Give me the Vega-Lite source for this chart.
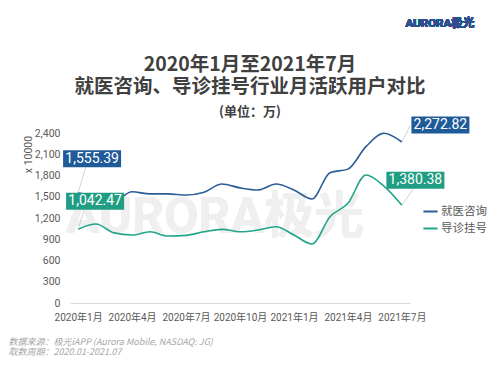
{
  "$schema": "https://vega.github.io/schema/vega-lite/v6.json",
  "width": 340,
  "height": 170,
  "autosize": {"type": "none"},
  "padding": {"left": 70, "top": 133, "right": 90, "bottom": 72},
  "background": "white",
  "title": {
    "text": ["2020年1月至2021年7月", "就医咨询、导诊挂号行业月活跃用户对比"],
    "subtitle": "(单位：万)",
    "anchor": "middle",
    "frame": "group",
    "dx": 10,
    "offset": -102,
    "font": "Noto Sans CJK SC",
    "fontSize": 19.5,
    "fontWeight": "bold",
    "color": "#404040",
    "lineHeight": 22,
    "subtitleFont": "Noto Sans CJK SC",
    "subtitleFontSize": 13,
    "subtitleFontWeight": "bold",
    "subtitleColor": "#404040",
    "subtitlePadding": 8
  },
  "data": {
    "values": [
      {"month": "2020年1月", "series": "就医咨询", "value": 1555.39},
      {"month": "2020年2月", "series": "就医咨询", "value": 1490},
      {"month": "2020年3月", "series": "就医咨询", "value": 1440},
      {"month": "2020年4月", "series": "就医咨询", "value": 1570},
      {"month": "2020年5月", "series": "就医咨询", "value": 1540},
      {"month": "2020年6月", "series": "就医咨询", "value": 1540},
      {"month": "2020年7月", "series": "就医咨询", "value": 1525},
      {"month": "2020年8月", "series": "就医咨询", "value": 1565},
      {"month": "2020年9月", "series": "就医咨询", "value": 1680},
      {"month": "2020年10月", "series": "就医咨询", "value": 1625},
      {"month": "2020年11月", "series": "就医咨询", "value": 1595},
      {"month": "2020年12月", "series": "就医咨询", "value": 1680},
      {"month": "2021年1月", "series": "就医咨询", "value": 1595},
      {"month": "2021年2月", "series": "就医咨询", "value": 1468},
      {"month": "2021年3月", "series": "就医咨询", "value": 1840},
      {"month": "2021年4月", "series": "就医咨询", "value": 1890},
      {"month": "2021年5月", "series": "就医咨询", "value": 2207},
      {"month": "2021年6月", "series": "就医咨询", "value": 2396},
      {"month": "2021年7月", "series": "就医咨询", "value": 2272.82},
      {"month": "2020年1月", "series": "导诊挂号", "value": 1042.47},
      {"month": "2020年2月", "series": "导诊挂号", "value": 1115},
      {"month": "2020年3月", "series": "导诊挂号", "value": 990},
      {"month": "2020年4月", "series": "导诊挂号", "value": 960},
      {"month": "2020年5月", "series": "导诊挂号", "value": 1005},
      {"month": "2020年6月", "series": "导诊挂号", "value": 945},
      {"month": "2020年7月", "series": "导诊挂号", "value": 955},
      {"month": "2020年8月", "series": "导诊挂号", "value": 1005},
      {"month": "2020年9月", "series": "导诊挂号", "value": 1040},
      {"month": "2020年10月", "series": "导诊挂号", "value": 1005},
      {"month": "2020年11月", "series": "导诊挂号", "value": 1030},
      {"month": "2020年12月", "series": "导诊挂号", "value": 1077},
      {"month": "2021年1月", "series": "导诊挂号", "value": 960},
      {"month": "2021年2月", "series": "导诊挂号", "value": 833},
      {"month": "2021年3月", "series": "导诊挂号", "value": 1218},
      {"month": "2021年4月", "series": "导诊挂号", "value": 1407},
      {"month": "2021年5月", "series": "导诊挂号", "value": 1807},
      {"month": "2021年6月", "series": "导诊挂号", "value": 1650},
      {"month": "2021年7月", "series": "导诊挂号", "value": 1380.38}
    ]
  },
  "encoding": {
    "x": {
      "field": "month",
      "type": "ordinal",
      "sort": null,
      "scale": {
        "type": "point",
        "padding": 0.45,
        "domain": ["2020年1月", "2020年2月", "2020年3月", "2020年4月", "2020年5月", "2020年6月", "2020年7月", "2020年8月", "2020年9月", "2020年10月", "2020年11月", "2020年12月", "2021年1月", "2021年2月", "2021年3月", "2021年4月", "2021年5月", "2021年6月", "2021年7月"]
      },
      "axis": {
        "values": ["2020年1月", "2020年4月", "2020年7月", "2020年10月", "2021年1月", "2021年4月", "2021年7月"],
        "labelAngle": 0,
        "labelOverlap": false,
        "labelFontSize": 10,
        "labelPadding": 9,
        "domain": true,
        "domainColor": "#d9d9d9",
        "title": ["数据来源：极光iAPP (Aurora Mobile, NASDAQ: JG)", "取数周期：2020.01-2021.07"],
        "titleX": -62,
        "titleY": 34,
        "titleAnchor": null,
        "titleAlign": "left",
        "titleBaseline": "top",
        "titleFont": "Noto Sans CJK SC",
        "titleFontSize": 9,
        "titleFontStyle": "italic",
        "titleFontWeight": "normal",
        "titleColor": "#a6a6a6",
        "titleLineHeight": 10
      }
    },
    "y": {
      "field": "value",
      "type": "quantitative",
      "scale": {"domain": [0, 2400]},
      "axis": {
        "values": [0, 300, 600, 900, 1200, 1500, 1800, 2100, 2400],
        "format": ",.0f",
        "labelPadding": 10,
        "title": "x 10000",
        "titleX": -42,
        "titleY": 21,
        "titleAngle": -90,
        "titleAlign": "center",
        "titleBaseline": "middle",
        "titleFont": "Roboto",
        "titleFontSize": 10.5,
        "titleFontWeight": "normal",
        "titleColor": "#595959"
      }
    }
  },
  "layer": [
    {
      "mark": {"type": "text", "text": "AURORA极光", "font": "Roboto, Noto Sans CJK SC", "fontSize": 50, "fontWeight": "bold", "color": "#efefef", "align": "center", "baseline": "middle", "xOffset": -7},
      "encoding": {"x": {"datum": "2020年9月"}, "y": {"datum": 1200}}
    },
    {
      "mark": {"type": "text", "text": "AURORA极光", "font": "Roboto, Noto Sans CJK SC", "fontSize": 11.5, "fontWeight": "bold", "color": "#2e4f8f", "align": "center", "baseline": "middle", "xOffset": 38},
      "encoding": {"x": {"datum": "2021年7月"}, "y": {"datum": 3939}}
    },
    {
      "mark": {"type": "line", "interpolate": "monotone", "strokeWidth": 1.6},
      "encoding": {
        "color": {
          "field": "series",
          "type": "nominal",
          "scale": {"domain": ["就医咨询", "导诊挂号"], "range": ["#2b5d96", "#22a58a"]},
          "legend": {
            "orient": "none",
            "legendX": 352,
            "legendY": 70,
            "title": null,
            "symbolType": "stroke",
            "symbolSize": 200,
            "symbolStrokeWidth": 2,
            "labelFont": "Noto Sans CJK SC",
            "labelFontSize": 11.5,
            "labelColor": "#595959",
            "rowPadding": 3,
            "labelOffset": 2
          }
        }
      }
    },
    {
      "transform": [{"filter": "datum.series === '就医咨询' && datum.month === '2020年1月'"}],
      "layer": [
        {"mark": {"type": "rule", "color": "#c8c8c8", "strokeWidth": 0.8, "x2Offset": 8, "y2Offset": -27}, "encoding": {"x2": {"field": "month"}, "y2": {"field": "value"}}},
        {"mark": {"type": "point", "shape": "M-1,-0.293H1V0.293H-1Z", "size": 3364, "filled": true, "opacity": 1, "fill": "#1f5b98", "strokeWidth": 0, "xOffset": 14, "yOffset": -34}},
        {"mark": {"type": "text", "font": "Roboto", "fontSize": 14, "color": "white", "align": "center", "baseline": "middle", "xOffset": 14, "yOffset": -34}, "encoding": {"text": {"field": "value", "type": "quantitative", "format": ",.2f"}}}
      ]
    },
    {
      "transform": [{"filter": "datum.series === '导诊挂号' && datum.month === '2020年1月'"}],
      "layer": [
        {"mark": {"type": "rule", "color": "#c8c8c8", "strokeWidth": 0.8, "x2Offset": 6, "y2Offset": -19}, "encoding": {"x2": {"field": "month"}, "y2": {"field": "value"}}},
        {"mark": {"type": "point", "shape": "M-1,-0.293H1V0.293H-1Z", "size": 3364, "filled": true, "opacity": 1, "fill": "#1f9e83", "strokeWidth": 0, "xOffset": 17, "yOffset": -28}},
        {"mark": {"type": "text", "font": "Roboto", "fontSize": 14, "color": "white", "align": "center", "baseline": "middle", "xOffset": 17, "yOffset": -28}, "encoding": {"text": {"field": "value", "type": "quantitative", "format": ",.2f"}}}
      ]
    },
    {
      "transform": [{"filter": "datum.series === '就医咨询' && datum.month === '2021年7月'"}],
      "layer": [
        {"mark": {"type": "rule", "color": "#c8c8c8", "strokeWidth": 0.8, "x2Offset": 8, "y2Offset": -16}, "encoding": {"x2": {"field": "month"}, "y2": {"field": "value"}}},
        {"mark": {"type": "point", "shape": "M-1,-0.293H1V0.293H-1Z", "size": 3364, "filled": true, "opacity": 1, "fill": "#1f5b98", "strokeWidth": 0, "xOffset": 38.5, "yOffset": -17}},
        {"mark": {"type": "text", "font": "Roboto", "fontSize": 14, "color": "white", "align": "center", "baseline": "middle", "xOffset": 38.5, "yOffset": -17}, "encoding": {"text": {"field": "value", "type": "quantitative", "format": ",.2f"}}}
      ]
    },
    {
      "transform": [{"filter": "datum.series === '导诊挂号' && datum.month === '2021年7月'"}],
      "layer": [
        {"mark": {"type": "rule", "color": "#c8c8c8", "strokeWidth": 0.8, "x2Offset": 12, "y2Offset": -17}, "encoding": {"x2": {"field": "month"}, "y2": {"field": "value"}}},
        {"mark": {"type": "point", "shape": "M-1,-0.293H1V0.293H-1Z", "size": 3364, "filled": true, "opacity": 1, "fill": "#1f9e83", "strokeWidth": 0, "xOffset": 13.5, "yOffset": -25}},
        {"mark": {"type": "text", "font": "Roboto", "fontSize": 14, "color": "white", "align": "center", "baseline": "middle", "xOffset": 13.5, "yOffset": -25}, "encoding": {"text": {"field": "value", "type": "quantitative", "format": ",.2f"}}}
      ]
    }
  ],
  "config": {
    "view": {"stroke": null},
    "axis": {
      "labelFont": "Roboto, Noto Sans CJK SC",
      "labelColor": "#595959",
      "labelFontSize": 10.5,
      "grid": false,
      "ticks": false,
      "domain": false
    }
  }
}
